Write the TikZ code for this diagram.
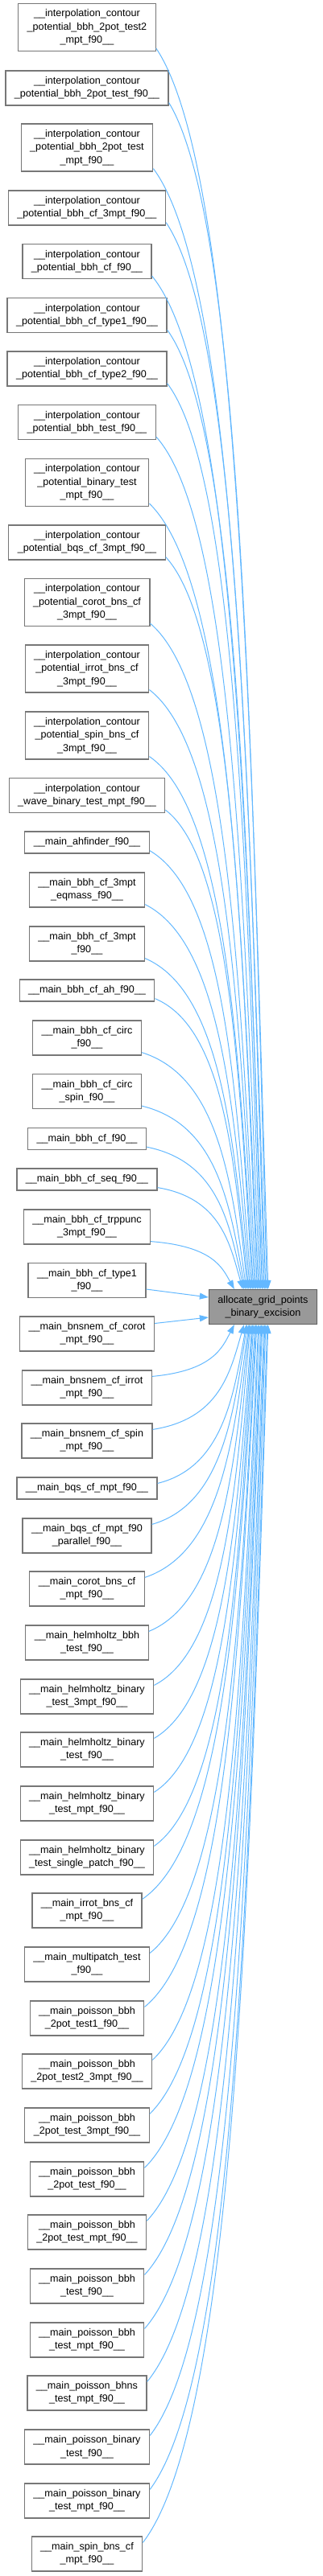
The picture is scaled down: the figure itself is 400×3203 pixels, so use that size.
\documentclass[tikz,border=0pt]{standalone}
\usepackage{fontspec}
\setmainfont{Liberation Sans}
\usetikzlibrary{arrows.meta}
\definecolor{edgeblue}{HTML}{63B8FF}
\definecolor{boxgray}{HTML}{777777}
\definecolor{tgtgray}{HTML}{999999}

\begin{document}
\begin{tikzpicture}[x=1pt, y=1pt,
    caller/.style={draw=boxgray, line width=1.2pt, fill=white, align=center,
        inner xsep=11pt, inner ysep=1pt, font=\fontsize{12.6}{16.3}\selectfont},
    rows1/.style={minimum height=27pt},
    rows2/.style={minimum height=43pt},
    rows3/.style={minimum height=59pt},
    calls/.style={draw=edgeblue, line width=1pt, -{Triangle[length=11pt,width=8pt]}}]
    \useasboundingbox (0,0) rectangle (400,-3203);
    % Appelants
    \node[caller,rows3] (c01) at (108,-34) {\_\_interpolation\_contour\\\_potential\_bbh\_2pot\_test2\\\_mpt\_f90\_\_};
    \node[caller,rows2] (c02) at (108,-109.5) {\_\_interpolation\_contour\\\_potential\_bbh\_2pot\_test\_f90\_\_};
    \node[caller,rows3] (c03) at (108,-183.5) {\_\_interpolation\_contour\\\_potential\_bbh\_2pot\_test\\\_mpt\_f90\_\_};
    \node[caller,rows2] (c04) at (108,-258.5) {\_\_interpolation\_contour\\\_potential\_bbh\_cf\_3mpt\_f90\_\_};
    \node[caller,rows2] (c05) at (108,-325) {\_\_interpolation\_contour\\\_potential\_bbh\_cf\_f90\_\_};
    \node[caller,rows2] (c06) at (108,-392) {\_\_interpolation\_contour\\\_potential\_bbh\_cf\_type1\_f90\_\_};
    \node[caller,rows2] (c07) at (108,-458.5) {\_\_interpolation\_contour\\\_potential\_bbh\_cf\_type2\_f90\_\_};
    \node[caller,rows2] (c08) at (108,-525) {\_\_interpolation\_contour\\\_potential\_bbh\_test\_f90\_\_};
    \node[caller,rows3] (c09) at (108,-600) {\_\_interpolation\_contour\\\_potential\_binary\_test\\\_mpt\_f90\_\_};
    \node[caller,rows2] (c10) at (108,-674.5) {\_\_interpolation\_contour\\\_potential\_bqs\_cf\_3mpt\_f90\_\_};
    \node[caller,rows3] (c11) at (108,-749) {\_\_interpolation\_contour\\\_potential\_corot\_bns\_cf\\\_3mpt\_f90\_\_};
    \node[caller,rows3] (c12) at (108,-831.5) {\_\_interpolation\_contour\\\_potential\_irrot\_bns\_cf\\\_3mpt\_f90\_\_};
    \node[caller,rows3] (c13) at (108,-914.5) {\_\_interpolation\_contour\\\_potential\_spin\_bns\_cf\\\_3mpt\_f90\_\_};
    \node[caller,rows2] (c14) at (108,-989) {\_\_interpolation\_contour\\\_wave\_binary\_test\_mpt\_f90\_\_};
    \node[caller,rows1] (c15) at (108,-1047.5) {\_\_main\_ahfinder\_f90\_\_};
    \node[caller,rows2] (c16) at (108,-1106.5) {\_\_main\_bbh\_cf\_3mpt\\\_eqmass\_f90\_\_};
    \node[caller,rows2] (c17) at (108,-1173.5) {\_\_main\_bbh\_cf\_3mpt\\\_f90\_\_};
    \node[caller,rows1] (c18) at (108,-1231.5) {\_\_main\_bbh\_cf\_ah\_f90\_\_};
    \node[caller,rows2] (c19) at (108,-1290.5) {\_\_main\_bbh\_cf\_circ\\\_f90\_\_};
    \node[caller,rows2] (c20) at (108,-1357) {\_\_main\_bbh\_cf\_circ\\\_spin\_f90\_\_};
    \node[caller,rows1] (c21) at (108,-1416) {\_\_main\_bbh\_cf\_f90\_\_};
    \node[caller,rows1] (c22) at (108,-1466.5) {\_\_main\_bbh\_cf\_seq\_f90\_\_};
    \node[caller,rows2] (c23) at (108,-1525.5) {\_\_main\_bbh\_cf\_trppunc\\\_3mpt\_f90\_\_};
    \node[caller,rows2] (c24) at (108,-1592) {\_\_main\_bbh\_cf\_type1\\\_f90\_\_};
    \node[caller,rows2] (c25) at (108,-1658.5) {\_\_main\_bnsnem\_cf\_corot\\\_mpt\_f90\_\_};
    \node[caller,rows2] (c26) at (108,-1725.5) {\_\_main\_bnsnem\_cf\_irrot\\\_mpt\_f90\_\_};
    \node[caller,rows2] (c27) at (108,-1791.5) {\_\_main\_bnsnem\_cf\_spin\\\_mpt\_f90\_\_};
    \node[caller,rows1] (c28) at (108,-1850.5) {\_\_main\_bqs\_cf\_mpt\_f90\_\_};
    \node[caller,rows2] (c29) at (108,-1909.5) {\_\_main\_bqs\_cf\_mpt\_f90\\\_parallel\_f90\_\_};
    \node[caller,rows2] (c30) at (108,-1975.5) {\_\_main\_corot\_bns\_cf\\\_mpt\_f90\_\_};
    \node[caller,rows2] (c31) at (108,-2042.5) {\_\_main\_helmholtz\_bbh\\\_test\_f90\_\_};
    \node[caller,rows2] (c32) at (108,-2109.5) {\_\_main\_helmholtz\_binary\\\_test\_3mpt\_f90\_\_};
    \node[caller,rows2] (c33) at (108,-2175.5) {\_\_main\_helmholtz\_binary\\\_test\_f90\_\_};
    \node[caller,rows2] (c34) at (108,-2242.5) {\_\_main\_helmholtz\_binary\\\_test\_mpt\_f90\_\_};
    \node[caller,rows2] (c35) at (108,-2309.5) {\_\_main\_helmholtz\_binary\\\_test\_single\_patch\_f90\_\_};
    \node[caller,rows2] (c36) at (108,-2375.5) {\_\_main\_irrot\_bns\_cf\\\_mpt\_f90\_\_};
    \node[caller,rows2] (c37) at (108,-2442.5) {\_\_main\_multipatch\_test\\\_f90\_\_};
    \node[caller,rows2] (c38) at (108,-2509.5) {\_\_main\_poisson\_bbh\\\_2pot\_test1\_f90\_\_};
    \node[caller,rows2] (c39) at (108,-2575.5) {\_\_main\_poisson\_bbh\\\_2pot\_test2\_3mpt\_f90\_\_};
    \node[caller,rows2] (c40) at (108,-2642.5) {\_\_main\_poisson\_bbh\\\_2pot\_test\_3mpt\_f90\_\_};
    \node[caller,rows2] (c41) at (108,-2709.5) {\_\_main\_poisson\_bbh\\\_2pot\_test\_f90\_\_};
    \node[caller,rows2] (c42) at (108,-2775.5) {\_\_main\_poisson\_bbh\\\_2pot\_test\_mpt\_f90\_\_};
    \node[caller,rows2] (c43) at (108,-2842.5) {\_\_main\_poisson\_bbh\\\_test\_f90\_\_};
    \node[caller,rows2] (c44) at (108,-2909.5) {\_\_main\_poisson\_bbh\\\_test\_mpt\_f90\_\_};
    \node[caller,rows2] (c45) at (108,-2975.5) {\_\_main\_poisson\_bhns\\\_test\_mpt\_f90\_\_};
    \node[caller,rows2] (c46) at (108,-3042.5) {\_\_main\_poisson\_binary\\\_test\_f90\_\_};
    \node[caller,rows2] (c47) at (108,-3109.5) {\_\_main\_poisson\_binary\\\_test\_mpt\_f90\_\_};
    \node[caller,rows2] (c48) at (108,-3175.5) {\_\_main\_spin\_bns\_cf\\\_mpt\_f90\_\_};
    % Fonction appelee
    \node[caller,rows2,fill=tgtgray,draw=boxgray!80!black] (tgt) at (326.5,-1625) {allocate\_grid\_points\\\_binary\_excision};
    % Appels vers le haut
    \draw[calls] ([yshift=4pt]c01.south east) .. controls +(103,-154) and +(-21,695) .. ([xshift=74pt]tgt.north west);
    \draw[calls] ([yshift=4pt]c02.south east) .. controls +(90,-148) and +(-18,664) .. ([xshift=72.5pt]tgt.north west);
    \draw[calls] ([yshift=4pt]c03.south east) .. controls +(103,-139) and +(-21,627) .. ([xshift=71pt]tgt.north west);
    \draw[calls] ([yshift=4pt]c04.south east) .. controls +(90,-133) and +(-18,597) .. ([xshift=69.5pt]tgt.north west);
    \draw[calls] ([yshift=4pt]c05.south east) .. controls +(103,-126) and +(-21,567) .. ([xshift=68pt]tgt.north west);
    \draw[calls] ([yshift=4pt]c06.south east) .. controls +(87,-119) and +(-17,537) .. ([xshift=66.5pt]tgt.north west);
    \draw[calls] ([yshift=4pt]c07.south east) .. controls +(86,-113) and +(-17,507) .. ([xshift=65pt]tgt.north west);
    \draw[calls] ([yshift=4pt]c08.south east) .. controls +(95,-106) and +(-19,477) .. ([xshift=63.5pt]tgt.north west);
    \draw[calls] ([yshift=4pt]c09.south east) .. controls +(101,-98) and +(-20,440) .. ([xshift=62pt]tgt.north west);
    \draw[calls] ([yshift=4pt]c10.south east) .. controls +(84,-91) and +(-17,410) .. ([xshift=60.5pt]tgt.north west);
    \draw[calls] ([yshift=4pt]c11.south east) .. controls +(97,-83) and +(-19,373) .. ([xshift=59pt]tgt.north west);
    \draw[calls] ([yshift=4pt]c12.south east) .. controls +(97,-75) and +(-19,336) .. ([xshift=57.5pt]tgt.north west);
    \draw[calls] ([yshift=4pt]c13.south east) .. controls +(96,-66) and +(-19,298) .. ([xshift=56pt]tgt.north west);
    \draw[calls] ([yshift=4pt]c14.south east) .. controls +(79,-60) and +(-16,269) .. ([xshift=54.5pt]tgt.north west);
    \draw[calls] ([yshift=4pt]c15.south east) .. controls +(94,-55) and +(-19,246) .. ([xshift=53pt]tgt.north west);
    \draw[calls] ([yshift=4pt]c16.south east) .. controls +(96,-48) and +(-19,216) .. ([xshift=51.5pt]tgt.north west);
    \draw[calls] ([yshift=4pt]c17.south east) .. controls +(95,-41) and +(-19,185) .. ([xshift=50pt]tgt.north west);
    \draw[calls] ([yshift=4pt]c18.south east) .. controls +(85,-36) and +(-17,163) .. ([xshift=48.5pt]tgt.north west);
    \draw[calls] ([yshift=4pt]c19.south east) .. controls +(96,-30) and +(-19,133) .. ([xshift=47pt]tgt.north west);
    \draw[calls] ([yshift=4pt]c20.south east) .. controls +(95,-23) and +(-19,103) .. ([xshift=45.5pt]tgt.north west);
    \draw[calls] ([yshift=4pt]c21.south east) .. controls +(90,-18) and +(-18,80) .. ([xshift=44pt]tgt.north west);
    \draw[calls] ([yshift=4pt]c22.south east) .. controls +(78,-13) and +(-16,57) .. ([xshift=42.5pt]tgt.north west);
    \draw[calls] ([yshift=4pt]c23.south east) .. controls +(77,-6) and +(-15,27) .. ([xshift=32pt]tgt.north west);
    % Appels directs
    \draw[calls] ([yshift=-11pt]c24.east) -- ([yshift=12pt]tgt.west);
    \draw[calls] ([yshift=13pt]c25.east) -- ([yshift=-13pt]tgt.west);
    % Appels vers le bas
    \draw[calls] ([yshift=-8pt]c26.north east) .. controls +(75,7) and +(-15,-29) .. ([xshift=32pt]tgt.south west);
    \draw[calls] ([yshift=-8pt]c27.north east) .. controls +(83,13) and +(-17,-59) .. ([xshift=44pt]tgt.south west);
    \draw[calls] ([yshift=-8pt]c28.north east) .. controls +(81,20) and +(-16,-89) .. ([xshift=47pt]tgt.south west);
    \draw[calls] ([yshift=-8pt]c29.north east) .. controls +(87,25) and +(-17,-112) .. ([xshift=48pt]tgt.south west);
    \draw[calls] ([yshift=-8pt]c30.north east) .. controls +(95,32) and +(-19,-142) .. ([xshift=50pt]tgt.south west);
    \draw[calls] ([yshift=-8pt]c31.north east) .. controls +(93,38) and +(-19,-172) .. ([xshift=51pt]tgt.south west);
    \draw[calls] ([yshift=-8pt]c32.north east) .. controls +(88,45) and +(-18,-202) .. ([xshift=52pt]tgt.south west);
    \draw[calls] ([yshift=-8pt]c33.north east) .. controls +(89,52) and +(-18,-232) .. ([xshift=54pt]tgt.south west);
    \draw[calls] ([yshift=-8pt]c34.north east) .. controls +(90,58) and +(-18,-262) .. ([xshift=55pt]tgt.south west);
    \draw[calls] ([yshift=-8pt]c35.north east) .. controls +(91,65) and +(-18,-292) .. ([xshift=56pt]tgt.south west);
    \draw[calls] ([yshift=-8pt]c36.north east) .. controls +(104,72) and +(-21,-322) .. ([xshift=58pt]tgt.south west);
    \draw[calls] ([yshift=-8pt]c37.north east) .. controls +(97,78) and +(-19,-352) .. ([xshift=59pt]tgt.south west);
    \draw[calls] ([yshift=-8pt]c38.north east) .. controls +(104,85) and +(-21,-382) .. ([xshift=60pt]tgt.south west);
    \draw[calls] ([yshift=-8pt]c39.north east) .. controls +(98,92) and +(-20,-412) .. ([xshift=62pt]tgt.south west);
    \draw[calls] ([yshift=-8pt]c40.north east) .. controls +(101,98) and +(-20,-442) .. ([xshift=63pt]tgt.south west);
    \draw[calls] ([yshift=-8pt]c41.north east) .. controls +(107,105) and +(-21,-472) .. ([xshift=65pt]tgt.south west);
    \draw[calls] ([yshift=-8pt]c42.north east) .. controls +(106,112) and +(-21,-502) .. ([xshift=66pt]tgt.south west);
    \draw[calls] ([yshift=-8pt]c43.north east) .. controls +(109,118) and +(-22,-532) .. ([xshift=67pt]tgt.south west);
    \draw[calls] ([yshift=-8pt]c44.north east) .. controls +(110,125) and +(-22,-562) .. ([xshift=69pt]tgt.south west);
    \draw[calls] ([yshift=-8pt]c45.north east) .. controls +(109,132) and +(-22,-592) .. ([xshift=70pt]tgt.south west);
    \draw[calls] ([yshift=-8pt]c46.north east) .. controls +(107,138) and +(-21,-622) .. ([xshift=71pt]tgt.south west);
    \draw[calls] ([yshift=-8pt]c47.north east) .. controls +(108,145) and +(-22,-652) .. ([xshift=73pt]tgt.south west);
    \draw[calls] ([yshift=-8pt]c48.north east) .. controls +(116,152) and +(-23,-682) .. ([xshift=74pt]tgt.south west);
\end{tikzpicture}
\end{document}
